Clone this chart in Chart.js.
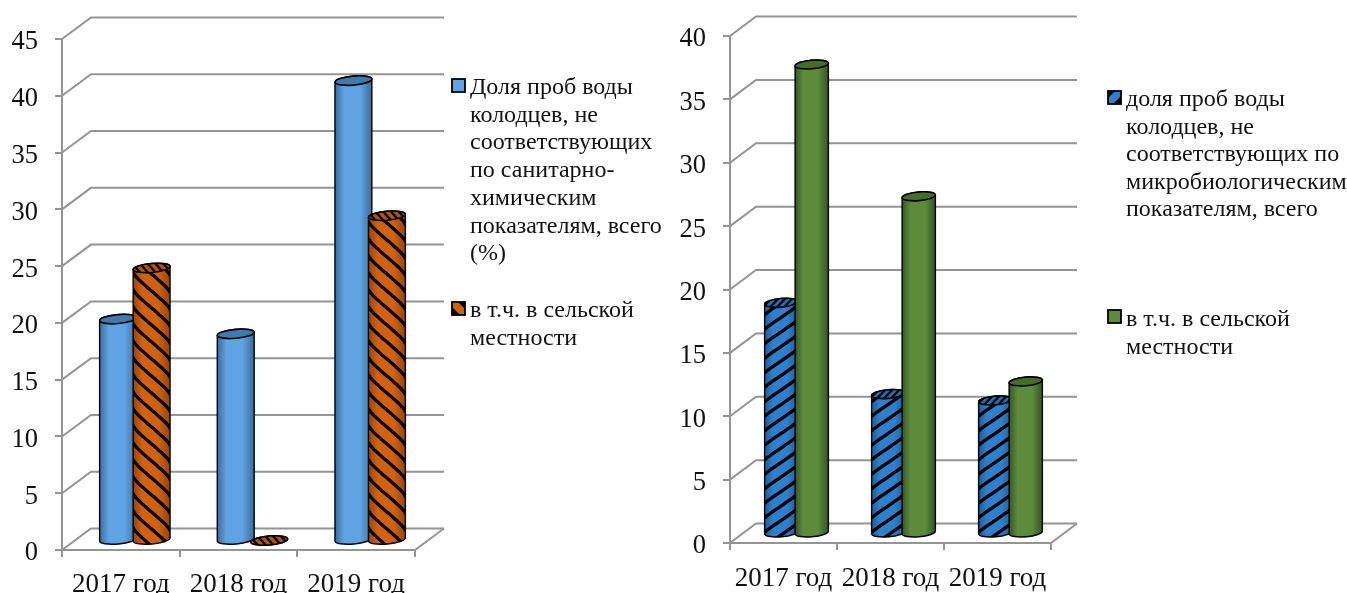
<!DOCTYPE html>
<html lang="ru">
<head>
<meta charset="utf-8">
<title>Доля проб воды колодцев</title>
<style>
  html, body { margin: 0; padding: 0; background: #fff; }
  canvas { position: absolute; top: 0; }
  #chemical { left: 0; }
  #microbial { left: 680px; }
</style>
<script src="https://cdn.jsdelivr.net/npm/chart.js@4/dist/chart.umd.min.js"></script>
</head>
<body>
<canvas id="chemical" width="680" height="593"></canvas>
<canvas id="microbial" width="667" height="593"></canvas>
<script>
const years = ['2017 год', '2018 год', '2019 год'];

// Sanitary-chemical indicators, %
const chemicalTotal = [19.5, 18.2, 40.5];
const chemicalRural = [24.0, 0, 28.6];
const chemicalTotalLegend = ['Доля проб воды', 'колодцев, не', 'соответствующих', 'по санитарно-', 'химическим', 'показателям, всего', '(%)'];
const chemicalRuralLegend = ['в т.ч. в сельской', 'местности'];

// Microbiological indicators, %
const microbialTotal = [18.2, 11.0, 10.5];
const microbialRural = [37.0, 26.6, 12.0];
const microbialTotalLegend = ['доля проб воды', 'колодцев, не', 'соответствующих по', 'микробиологическим', 'показателям, всего'];
const microbialRuralLegend = ['в т.ч. в сельской', 'местности'];

const FONT = '"Liberation Serif", "Times New Roman", serif';
const GRID = '#949494';
const TILT = -5 * Math.PI / 180;

const PAINT = {
  blue:   { edge: '#3c6c9c', mid: '#5fa3e2', top: '#4079ad' },
  orange: { edge: '#96450b', mid: '#cf6110', top: '#b5530e', stripes: { dir: 1, drop: 38, gap: 17, width: 3.3, curve: 0.45 } },
  hatch:  { edge: '#1f5b92', mid: '#2f80cc', top: '#2a6eaa', stripes: { dir: -1, drop: 25, gap: 14.5, width: 3.3, curve: 0.25 } },
  green:  { edge: '#35552a', mid: '#5c8c3b', top: '#436c2d' }
};

function bodyPath(ctx, cx, rx, ry, topY, botY) {
  ctx.beginPath();
  ctx.ellipse(cx, topY, rx, ry, TILT, Math.PI, 2 * Math.PI);
  ctx.ellipse(cx, botY, rx, ry, TILT, 0, Math.PI);
  ctx.closePath();
}

// Round column: shaded body, optional helical stripes, then the lid.
function drawCylinder(ctx, cx, rx, ry, topY, botY, paint) {
  const shade = ctx.createLinearGradient(cx - rx, 0, cx + rx, 0);
  shade.addColorStop(0, paint.edge);
  shade.addColorStop(0.25, paint.mid);
  shade.addColorStop(0.68, paint.mid);
  shade.addColorStop(1, paint.edge);

  ctx.save();
  bodyPath(ctx, cx, rx, ry, topY, botY);
  ctx.fillStyle = shade;
  ctx.fill();

  if (paint.stripes) {
    const s = paint.stripes;
    ctx.save();
    ctx.clip();
    ctx.strokeStyle = '#000';
    ctx.lineWidth = s.width;
    ctx.lineCap = 'butt';
    for (let y0 = botY + s.drop + ry; y0 > topY - s.drop - s.gap; y0 -= s.gap) {
      ctx.beginPath();
      for (let i = 0; i <= 16; i++) {
        const a = -Math.PI / 2 + Math.PI * i / 16;
        const x = cx + rx * Math.sin(a);
        const flat = (x - cx + rx) / (2 * rx);
        const wrapped = a / Math.PI + 0.5;
        const run = (1 - s.curve) * flat + s.curve * wrapped;
        const along = s.dir > 0 ? run : 1 - run;
        const y = y0 - s.drop + s.drop * along;
        if (i === 0) ctx.moveTo(x, y); else ctx.lineTo(x, y);
      }
      ctx.stroke();
    }
    ctx.restore();
  }

  bodyPath(ctx, cx, rx, ry, topY, botY);
  ctx.strokeStyle = '#000';
  ctx.lineWidth = 1.4;
  ctx.stroke();

  ctx.beginPath();
  ctx.ellipse(cx, topY, rx, ry, TILT, 0, 2 * Math.PI);
  ctx.fillStyle = paint.top;
  ctx.fill();
  if (paint.stripes) {
    ctx.save();
    ctx.clip();
    ctx.strokeStyle = '#000';
    ctx.lineWidth = paint.stripes.width * 0.7;
    for (let k = -2; k <= 2; k++) {
      const x = cx + k * rx * 0.42;
      ctx.beginPath();
      ctx.moveTo(x - paint.stripes.dir * 5, topY - ry - 1);
      ctx.lineTo(x + paint.stripes.dir * 5, topY + ry + 1);
      ctx.stroke();
    }
    ctx.restore();
  }
  ctx.beginPath();
  ctx.ellipse(cx, topY, rx, ry, TILT, 0, 2 * Math.PI);
  ctx.strokeStyle = '#000';
  ctx.lineWidth = 1.6;
  ctx.stroke();
  ctx.restore();
}

// Wall and floor lines behind the columns, tied to the value and category scales.
const depthWalls = {
  id: 'depthWalls',
  beforeDatasetsDraw(chart, _args, opts) {
    const { ctx, scales: { x, y } } = chart;
    ctx.save();
    ctx.strokeStyle = GRID;
    ctx.lineWidth = 2;
    y.ticks.forEach(t => {
      const py = y.getPixelForValue(t.value);
      ctx.beginPath();
      ctx.moveTo(x.left, py);
      ctx.lineTo(x.left + opts.dx, py - opts.dy);
      ctx.lineTo(x.right + opts.dx, py - opts.dy);
      ctx.stroke();
    });
    ctx.beginPath();
    ctx.moveTo(x.right, y.bottom);
    ctx.lineTo(x.right + opts.dx, y.bottom - opts.dy);
    ctx.stroke();
    ctx.restore();
  }
};

// Columns stand mid-way through the floor depth, placed from the bar elements.
const columns = {
  id: 'columns',
  afterDatasetsDraw(chart, _args, opts) {
    const { ctx } = chart;
    const count = chart.data.labels.length;
    for (let i = 0; i < count; i++) {
      chart.data.datasets.forEach((ds, d) => {
        const bar = chart.getDatasetMeta(d).data[i];
        drawCylinder(ctx, bar.x + opts.dx, bar.width / 2, opts.ry,
          bar.y - opts.dy, bar.base - opts.dy, PAINT[ds.paint]);
      });
    }
  }
};

// Legend with hand-broken lines, set to the right of the plot.
const sideLegend = {
  id: 'sideLegend',
  afterDraw(chart, _args, opts) {
    const { ctx } = chart;
    ctx.save();
    ctx.font = opts.size + 'px ' + FONT;
    ctx.textBaseline = 'alphabetic';
    ctx.textAlign = 'left';
    opts.entries.forEach(entry => {
      const paint = PAINT[entry.paint];
      ctx.fillStyle = paint.mid;
      ctx.fillRect(opts.swatchX, entry.swatchY, 13, 13);
      if (paint.stripes) {
        ctx.save();
        ctx.beginPath();
        ctx.rect(opts.swatchX, entry.swatchY, 13, 13);
        ctx.clip();
        ctx.fillStyle = '#000';
        ctx.beginPath();
        const l = opts.swatchX, t = entry.swatchY;
        if (paint.stripes.dir > 0) {
          ctx.moveTo(l, t); ctx.lineTo(l + 13, t); ctx.lineTo(l + 13, t + 7); ctx.lineTo(l + 6, t);
          ctx.moveTo(l, t + 5); ctx.lineTo(l + 8, t + 13); ctx.lineTo(l, t + 13);
        } else {
          ctx.moveTo(l, t); ctx.lineTo(l + 7, t); ctx.lineTo(l, t + 7);
          ctx.moveTo(l + 13, t + 5); ctx.lineTo(l + 13, t + 13); ctx.lineTo(l + 5, t + 13);
        }
        ctx.fill();
        ctx.restore();
      }
      ctx.strokeStyle = '#000';
      ctx.lineWidth = 1.8;
      ctx.strokeRect(opts.swatchX, entry.swatchY, 13, 13);
      ctx.fillStyle = '#111';
      entry.lines.forEach((line, n) => {
        ctx.fillText(line, opts.textX, entry.baseline + n * opts.leading);
      });
    });
    ctx.restore();
  }
};

function buildChart(id, series, yMax, frame) {
  return new Chart(document.getElementById(id), {
    type: 'bar',
    data: {
      labels: years,
      datasets: series.map(s => ({
        label: s.lines.join(' '),
        data: s.values,
        paint: s.paint,
        backgroundColor: 'transparent',
        borderWidth: 0,
        categoryPercentage: 0.57,
        barPercentage: frame.barPercentage
      }))
    },
    plugins: [depthWalls, columns, sideLegend],
    options: {
      responsive: false,
      animation: false,
      devicePixelRatio: 1,
      events: [],
      layout: { padding: { left: 0, right: frame.width - frame.right, top: frame.top, bottom: 0 } },
      scales: {
        x: {
          afterFit(s) { s.height = 593 - frame.bottom; },
          grid: { drawOnChartArea: false, drawTicks: true, tickLength: 7, color: GRID, lineWidth: 2, offset: true },
          border: { display: true, color: GRID, width: 2 },
          ticks: { color: '#111', font: { family: FONT, size: 27 }, padding: frame.xPad, autoSkip: false, maxRotation: 0 }
        },
        y: {
          min: 0,
          max: yMax,
          afterFit(s) { s.width = frame.left; },
          grid: { drawOnChartArea: false, drawTicks: true, tickLength: 7, color: GRID, lineWidth: 2 },
          border: { display: true, color: GRID, width: 2 },
          ticks: { stepSize: 5, color: '#111', font: { family: FONT, size: 26.5 }, padding: 17, labelOffset: 3.5 }
        }
      },
      plugins: {
        legend: { display: false },
        tooltip: { enabled: false },
        depthWalls: { dx: frame.depthX, dy: frame.depthY },
        columns: { dx: frame.barDx, dy: frame.barDy, ry: frame.lidRy },
        sideLegend: frame.legend
      }
    }
  });
}

buildChart('chemical', [
  { values: chemicalTotal, paint: 'blue', lines: chemicalTotalLegend },
  { values: chemicalRural, paint: 'orange', lines: chemicalRuralLegend }
], 45, {
  width: 680, left: 62, right: 415, top: 39, bottom: 550,
  depthX: 29, depthY: 21.5, barDx: 14, barDy: 9.5, lidRy: 4.5, barPercentage: 1.104,
  xPad: 12,
  legend: {
    size: 24, swatchX: 452, textX: 470, leading: 27.7,
    entries: [
      { paint: 'blue', swatchY: 79, baseline: 94, lines: chemicalTotalLegend },
      { paint: 'orange', swatchY: 302, baseline: 317, lines: chemicalRuralLegend }
    ]
  }
});

buildChart('microbial', [
  { values: microbialTotal, paint: 'hatch', lines: microbialTotalLegend },
  { values: microbialRural, paint: 'green', lines: microbialRuralLegend }
], 40, {
  width: 667, left: 50, right: 371, top: 36, bottom: 543,
  depthX: 26, depthY: 19.5, barDx: 13, barDy: 9.5, lidRy: 4.3, barPercentage: 1.095,
  xPad: 13,
  legend: {
    size: 24, swatchX: 428, textX: 446, leading: 27.6,
    entries: [
      { paint: 'hatch', swatchY: 91, baseline: 106, lines: microbialTotalLegend },
      { paint: 'green', swatchY: 310, baseline: 326, lines: microbialRuralLegend }
    ]
  }
});
</script>
</body>
</html>
